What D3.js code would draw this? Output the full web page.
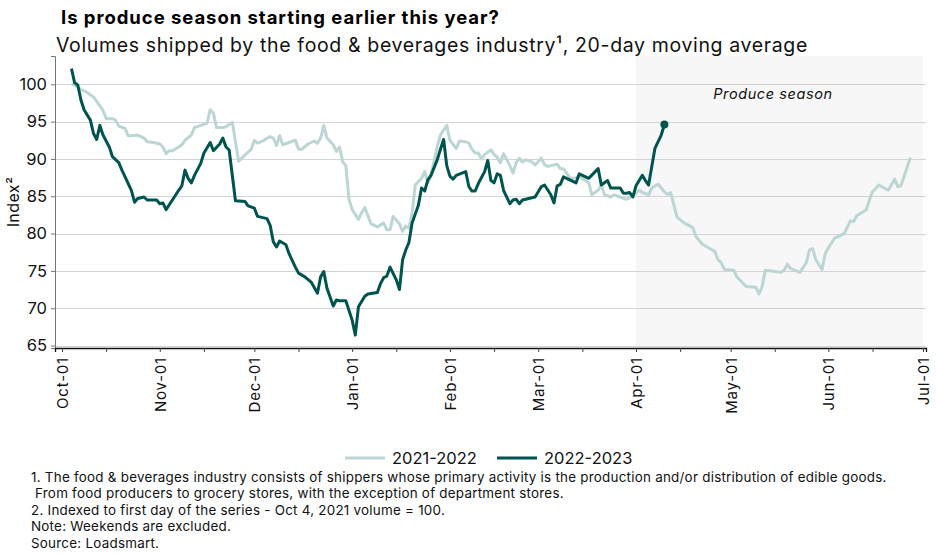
<!DOCTYPE html>
<html><head><meta charset="utf-8">
<script src="https://cdn.jsdelivr.net/npm/d3@7/dist/d3.min.js"></script>
<style>
body{margin:0;background:#fff;}
svg{display:block;font-family:"Inter","Open Sans",sans-serif;}
</style></head>
<body><svg id="c" width="936" height="554"></svg>
<script>
const title = "Is produce season starting earlier this year?";
const subtitle = "Volumes shipped by the food & beverages industry\u00B9, 20-day moving average";
const yLabel = "Index\u00B2";
const seriesNames = ["2021-2022", "2022-2023"];
const yTicks = [65, 70, 75, 80, 85, 90, 95, 100];
const monthLabels = ["Oct-01","Nov-01","Dec-01","Jan-01","Feb-01","Mar-01","Apr-01","May-01","Jun-01","Jul-01"];
const bandLabel = "Produce season";
const footnotes = [
 "1. The food & beverages industry consists of shippers whose primary activity is the production and/or distribution of edible goods.",
 " From food producers to grocery stores, with the exception of department stores.",
 "2. Indexed to first day of the series - Oct 4, 2021 volume = 100.",
 "Note: Weekends are excluded.",
 "Source: Loadsmart."
];

// 2021-2022 season
const dates2122 = ["2021-10-04","2021-10-05","2021-10-07","2021-10-09","2021-10-11","2021-10-12","2021-10-14","2021-10-15","2021-10-17","2021-10-18","2021-10-19","2021-10-21","2021-10-22","2021-10-23","2021-10-25","2021-10-27","2021-10-28","2021-10-30","2021-11-01","2021-11-02","2021-11-03","2021-11-04","2021-11-05","2021-11-07","2021-11-08","2021-11-09","2021-11-11","2021-11-12","2021-11-14","2021-11-16","2021-11-17","2021-11-18","2021-11-19","2021-11-21","2021-11-22","2021-11-24","2021-11-26","2021-11-28","2021-11-30","2021-12-01","2021-12-02","2021-12-04","2021-12-06","2021-12-07","2021-12-08","2021-12-09","2021-12-10","2021-12-12","2021-12-14","2021-12-15","2021-12-16","2021-12-18","2021-12-20","2021-12-21","2021-12-22","2021-12-23","2021-12-24","2021-12-26","2021-12-27","2021-12-28","2021-12-29","2021-12-30","2021-12-31","2022-01-01","2022-01-03","2022-01-04","2022-01-05","2022-01-07","2022-01-08","2022-01-09","2022-01-11","2022-01-12","2022-01-13","2022-01-14","2022-01-16","2022-01-17","2022-01-18","2022-01-19","2022-01-20","2022-01-21","2022-01-23","2022-01-24","2022-01-25","2022-01-26","2022-01-28","2022-01-29","2022-01-31","2022-02-01","2022-02-03","2022-02-04","2022-02-06","2022-02-07","2022-02-08","2022-02-09","2022-02-10","2022-02-11","2022-02-12","2022-02-14","2022-02-15","2022-02-16","2022-02-17","2022-02-18","2022-02-20","2022-02-21","2022-02-22","2022-02-23","2022-02-24","2022-02-25","2022-02-27","2022-02-28","2022-03-02","2022-03-03","2022-03-04","2022-03-06","2022-03-07","2022-03-08","2022-03-09","2022-03-11","2022-03-12","2022-03-14","2022-03-17","2022-03-18","2022-03-20","2022-03-21","2022-03-22","2022-03-24","2022-03-25","2022-03-27","2022-03-29","2022-03-31","2022-04-02","2022-04-03","2022-04-05","2022-04-06","2022-04-08","2022-04-10","2022-04-11","2022-04-12","2022-04-14","2022-04-16","2022-04-19","2022-04-20","2022-04-22","2022-04-24","2022-04-26","2022-04-27","2022-04-28","2022-04-29","2022-05-02","2022-05-03","2022-05-05","2022-05-06","2022-05-09","2022-05-10","2022-05-11","2022-05-12","2022-05-14","2022-05-17","2022-05-18","2022-05-19","2022-05-20","2022-05-23","2022-05-25","2022-05-26","2022-05-27","2022-05-28","2022-05-30","2022-05-31","2022-06-01","2022-06-03","2022-06-06","2022-06-08","2022-06-09","2022-06-10","2022-06-13","2022-06-14","2022-06-15","2022-06-17","2022-06-20","2022-06-22","2022-06-23","2022-06-24","2022-06-27"];
const values2122 = [100.0,99.9,99.3,98.9,98.3,97.7,96.5,95.4,95.4,95.2,94.4,94.1,93.1,93.1,93.2,92.8,92.3,92.2,92.0,91.6,90.7,91.1,91.1,91.6,91.9,92.5,93.2,94.2,94.5,94.8,96.6,96.1,94.2,94.2,94.3,94.9,89.7,90.5,91.3,92.5,92.1,92.5,93.0,92.8,91.8,93.1,91.9,92.2,92.5,91.3,91.3,92.0,92.4,92.1,92.8,94.5,92.8,91.9,91.0,91.6,89.6,89.1,84.6,83.2,81.9,82.8,83.5,81.3,81.1,80.9,81.4,80.5,80.5,82.3,81.3,80.3,81.0,80.7,82.7,86.5,87.4,88.3,86.8,87.8,91.7,93.2,94.5,92.5,91.4,92.4,92.3,92.1,91.3,90.8,90.8,90.0,90.6,91.2,90.6,90.2,89.5,90.7,89.1,88.1,89.5,90.1,89.6,89.9,89.6,89.2,90.1,89.2,89.0,89.2,89.3,88.7,88.7,87.5,87.4,87.6,86.8,85.2,85.8,86.5,85.2,84.9,85.2,84.9,84.6,85.0,85.8,85.5,85.2,86.1,86.6,85.6,85.2,85.5,82.2,81.5,80.8,79.6,78.6,78.1,77.6,76.5,76.1,75.2,75.1,74.2,73.3,72.9,72.8,71.9,72.9,75.1,75.0,74.8,75.1,75.9,75.3,74.8,76.1,77.8,78.0,76.5,75.2,77.3,78.1,79.4,80.0,81.7,81.6,82.4,83.2,84.5,85.6,86.5,85.8,87.3,86.3,86.4,90.2];

// 2022-2023 season
const dates2223 = ["2022-10-04","2022-10-05","2022-10-06","2022-10-07","2022-10-08","2022-10-10","2022-10-11","2022-10-12","2022-10-13","2022-10-14","2022-10-16","2022-10-17","2022-10-19","2022-10-20","2022-10-21","2022-10-23","2022-10-24","2022-10-25","2022-10-27","2022-10-28","2022-10-31","2022-11-01","2022-11-02","2022-11-03","2022-11-05","2022-11-07","2022-11-08","2022-11-09","2022-11-10","2022-11-11","2022-11-12","2022-11-14","2022-11-15","2022-11-17","2022-11-18","2022-11-20","2022-11-21","2022-11-22","2022-11-23","2022-11-25","2022-11-28","2022-11-29","2022-12-01","2022-12-02","2022-12-05","2022-12-06","2022-12-07","2022-12-08","2022-12-09","2022-12-11","2022-12-12","2022-12-14","2022-12-15","2022-12-17","2022-12-19","2022-12-21","2022-12-22","2022-12-23","2022-12-24","2022-12-26","2022-12-27","2022-12-28","2022-12-30","2023-01-01","2023-01-02","2023-01-03","2023-01-05","2023-01-06","2023-01-09","2023-01-10","2023-01-11","2023-01-12","2023-01-13","2023-01-15","2023-01-16","2023-01-17","2023-01-18","2023-01-19","2023-01-20","2023-01-22","2023-01-23","2023-01-24","2023-01-25","2023-01-26","2023-01-28","2023-01-29","2023-01-30","2023-01-31","2023-02-01","2023-02-02","2023-02-03","2023-02-06","2023-02-07","2023-02-08","2023-02-09","2023-02-10","2023-02-12","2023-02-13","2023-02-14","2023-02-15","2023-02-16","2023-02-17","2023-02-18","2023-02-20","2023-02-21","2023-02-22","2023-02-23","2023-02-24","2023-02-26","2023-02-28","2023-03-01","2023-03-02","2023-03-03","2023-03-05","2023-03-06","2023-03-07","2023-03-08","2023-03-09","2023-03-11","2023-03-13","2023-03-14","2023-03-16","2023-03-17","2023-03-20","2023-03-21","2023-03-23","2023-03-24","2023-03-25","2023-03-27","2023-03-28","2023-03-29","2023-03-30","2023-03-31","2023-04-01","2023-04-03","2023-04-04","2023-04-05","2023-04-06","2023-04-07","2023-04-09","2023-04-10"];
const values2223 = [102.1,100.2,99.9,97.9,96.6,95.2,93.4,92.6,94.5,93.2,91.6,90.3,89.5,88.5,87.6,85.8,84.2,84.7,84.9,84.5,84.5,84.0,84.1,83.2,84.5,85.8,86.4,88.5,87.4,86.8,87.8,89.4,90.8,92.2,91.1,92.0,92.8,91.6,91.2,84.4,84.3,83.7,83.4,82.3,82.0,81.1,78.9,78.2,79.0,78.5,77.3,75.5,74.7,74.2,73.5,72.0,74.2,74.9,72.7,70.3,71.1,71.0,71.0,68.4,66.4,70.2,71.6,71.9,72.1,73.3,74.1,74.3,75.5,73.8,72.5,76.5,77.8,78.8,81.4,83.8,86.1,85.7,87.2,87.8,89.9,91.3,92.6,89.1,87.7,87.3,87.8,88.3,86.3,85.7,85.7,86.7,88.3,89.8,87.1,86.8,88.0,87.8,85.8,84.0,84.5,84.6,84.0,84.5,84.7,84.9,85.6,86.3,86.5,85.2,84.1,86.4,86.6,87.6,87.2,86.8,88.0,87.6,87.4,88.7,86.5,87.1,86.1,86.1,86.1,85.4,85.4,85.5,84.9,86.4,87.8,87.1,86.5,89.0,91.4,93.2,94.6];

const colors = ["#bcd6d4", "#00544f"];

const svg = d3.select("#c");
const parse = d3.timeParse("%Y-%m-%d");
// Map every date onto the common Oct-2022 .. Jul-2023 season axis
function seasonDate(s, shiftYears) {
  const d = parse(s);
  return d3.timeYear.offset(d, shiftYears);
}
const s1 = dates2122.map((d, i) => ({date: seasonDate(d, 1), v: values2122[i]}));
const s2 = dates2223.map((d, i) => ({date: seasonDate(d, 0), v: values2223[i]}));

const L = 55, R = 926, T = 56, B = 348;
const x0 = d3.scaleTime().domain([new Date(2022, 9, 1), new Date(2023, 6, 1)]).range([62, 923]);
const x = d3.scaleTime().domain([x0.invert(L), x0.invert(R)]).range([L, R]);
const y = d3.scaleLinear().domain([64.67, 103.79]).range([B, T]);

// produce season band
svg.append("rect")
  .attr("x", x(new Date(2023, 3, 1))).attr("y", T)
  .attr("width", x(new Date(2023, 6, 1)) - x(new Date(2023, 3, 1)))
  .attr("height", B - T).attr("fill", "#f7f7f7");

// grid
svg.append("g").selectAll("line").data(yTicks).join("line")
  .attr("x1", L).attr("x2", R)
  .attr("y1", d => Math.round(y(d)) + 0.5).attr("y2", d => Math.round(y(d)) + 0.5)
  .attr("stroke", "#d4d4d4").attr("stroke-width", 1);

svg.append("text").attr("x", 773).attr("y", 99)
  .attr("text-anchor", "middle").attr("font-style", "italic")
  .attr("font-size", 14.5).attr("letter-spacing", 0.6).attr("fill", "#111").text(bandLabel);

// axes
const yAxis = d3.axisLeft(y).tickValues(yTicks).tickSize(4).tickPadding(4);
const gy = svg.append("g").attr("transform", `translate(${L},0)`).call(yAxis);
gy.select(".domain").attr("stroke", "#777");
gy.selectAll(".tick line").attr("stroke", "#777");
gy.selectAll("text").attr("font-size", 16.5).attr("fill", "#111")
  .attr("font-family", "Inter, 'Open Sans', sans-serif");

const tickDates = [];
for (let m = 0; m < 10; m++) {
  const d1 = new Date(2022, 9 + m, 1);
  tickDates.push(d1);
  if (m < 9) tickDates.push(new Date(2022, 9 + m, 15));
}
const firsts = tickDates.filter(t => t.getDate() === 1);
const xAxis = d3.axisBottom(x).tickValues(tickDates).tickSize(4).tickPadding(4)
  .tickFormat(d => d.getDate() === 1 ? monthLabels[firsts.findIndex(t => +t === +d)] : "");
const gx = svg.append("g").attr("transform", `translate(0,${B})`).call(xAxis);
gx.select(".domain").attr("stroke", "#111").attr("stroke-width", 1.3);
gx.selectAll(".tick line").attr("stroke", "#444");
gx.selectAll("text").attr("font-size", 15).attr("letter-spacing", 0.8).attr("fill", "#111")
  .attr("font-family", "Inter, 'Open Sans', sans-serif")
  .attr("text-anchor", "end").attr("transform", "rotate(-90)")
  .attr("x", -9).attr("y", 0).attr("dy", "0.36em");

svg.append("text").attr("transform", `translate(19,${(T + B) / 2}) rotate(-90)`)
  .attr("text-anchor", "middle").attr("font-size", 16).attr("letter-spacing", 0.4).attr("fill", "#111").text(yLabel);

// lines
const line = d3.line().x(d => x(d.date)).y(d => y(d.v)).curve(d3.curveLinear);
svg.append("path").datum(s1).attr("d", line).attr("fill", "none")
  .attr("stroke", colors[0]).attr("stroke-width", 3).attr("stroke-linejoin", "round");
svg.append("path").datum(s2).attr("d", line).attr("fill", "none")
  .attr("stroke", colors[1]).attr("stroke-width", 3).attr("stroke-linejoin", "round");
const last = s2[s2.length - 1];
svg.append("circle").attr("cx", x(last.date)).attr("cy", y(last.v)).attr("r", 4).attr("fill", colors[1]);

// titles
svg.append("text").attr("x", 61).attr("y", 24).attr("font-size", 18.5).attr("font-weight", 700)
  .attr("letter-spacing", 0.95).attr("fill", "#000").text(title);
svg.append("text").attr("x", 56).attr("y", 52).attr("font-size", 19.5).attr("letter-spacing", 0.64)
  .attr("fill", "#111").text(subtitle);

// legend
const lg = svg.append("g");
const legendX = [345, 497];
seriesNames.forEach((n, i) => {
  lg.append("line").attr("x1", legendX[i]).attr("x2", legendX[i] + 40).attr("y1", 458).attr("y2", 458)
    .attr("stroke", colors[i]).attr("stroke-width", 3);
  lg.append("text").attr("x", legendX[i] + 47).attr("y", 464).attr("font-size", 16.5).attr("fill", "#111").text(n);
});

// footnotes
svg.append("g").selectAll("text").data(footnotes).join("text")
  .attr("x", 31).attr("y", (d, i) => 482 + i * 16.4)
  .attr("font-size", 13.4).attr("letter-spacing", 0.25).attr("fill", "#111").attr("xml:space", "preserve")
  .style("white-space", "pre").text(d => d);
</script></body></html>
